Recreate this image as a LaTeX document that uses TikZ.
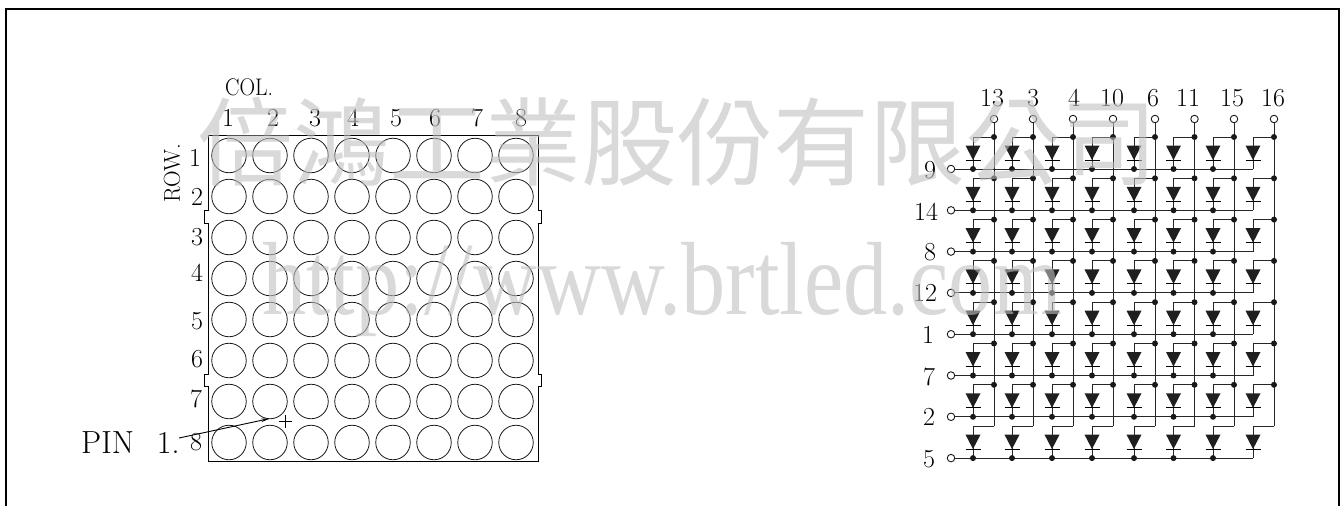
\documentclass[tikz,border=0pt]{standalone}
\usepackage{fontspec}
\setmainfont{Latin Modern Roman}
\newfontfamily\wmcjk{Noto Sans CJK TC}
\newfontfamily\wmlat{Liberation Serif}
\usetikzlibrary{arrows.meta}
\tikzset{
  x=1pt,y=-1pt,
  wire/.style={line width=1pt,draw=black!85},
  frameline/.style={line width=.9pt,draw=black},
  led/.style={circle,draw=black!90,line width=.8pt,minimum size=34.5pt,inner sep=0pt},
  term/.style={circle,draw=black!90,fill=white,line width=.9pt,minimum size=7.5pt,inner sep=0pt},
  junction/.style={circle,fill=black!90,minimum size=6pt,inner sep=0pt},
  lab/.style={inner sep=0pt,font=\fontsize{26}{26}\selectfont},
  wm/.style={inner sep=0pt,text=black!25,text opacity=.6}
}
\begin{document}
\begin{tikzpicture}
\useasboundingbox (0,0) rectangle (1342,506);
% outer frame
\draw[line width=2pt] (6,506) -- (6,8.5) -- (1339,8.5) -- (1339,506);
% package outline
\draw[frameline] (208,135.5) -- (538,135.5) -- (538,210) -- (541,210) -- (541,223) -- (538,223)
  -- (538,374) -- (541,374) -- (541,386) -- (538,386) -- (538,461) -- (208,461)
  -- (208,386) -- (204.5,386) -- (204.5,374) -- (208,374) -- (208,223) -- (204.5,223)
  -- (204.5,210) -- (208,210) -- cycle;
% LED dots
\foreach \r in {0,...,7}{\foreach \c in {0,...,7}{
  \node[led] (led\r\c) at ({229+41*\c},{155.5+41*\r}) {};
}}
% left labels
\foreach \t/\x in {1/228,2/273,3/315,4/353,5/396,6/435,7/477,8/521}{
  \node[lab] (colno\t) at (\x,118) {\t};
}
\foreach \t/\y/\x in {1/158/195,2/197/197,3/237/197,4/273/197,5/321/197,6/359/197,7/399/196,8/442/196}{
  \node[lab] (rowno\t) at (\x,\y) {\t};
}
\node[lab,xscale=.9,transform shape] (coltitle) at (249,87) {\fontsize{24}{24}\selectfont COL.};
\node[lab,rotate=90] (rowtitle) at (172,173) {\fontsize{23}{23}\selectfont ROW.};
\node[lab,anchor=base west] (pin) at (81,453) {\fontsize{32}{32}\selectfont PIN\hspace{23pt}1.};
\coordinate (arrowstart) at (179,438);
\coordinate (arrowend) at (270,418.5);
\draw[line width=.9pt,-{Stealth[length=9pt,width=3.5pt]}] (arrowstart) -- (arrowend);
\coordinate (plusc) at (285,421);
\draw[line width=.8pt] ([xshift=-6.5pt]plusc) -- ([xshift=6.5pt]plusc) ([yshift=-6.5pt]plusc) -- ([yshift=6.5pt]plusc);
% circuit: row lines
\foreach \t/\i in {9/0,14/1,8/2,12/3,1/4,7/5,2/6,5/7}{
  \pgfmathsetmacro\ry{169+41.3*\i}
  \node[term] (rt\i) at (951,\ry) {};
  \coordinate (rend\i) at (1253,\ry);
  \draw[wire] (rt\i) -- (rend\i);
}
\foreach \t/\y/\x [count=\n] in {9/170/930,14/212/926,8/252/930,12/293/925,1/335/928,7/377/929,2/417/929,5/459/929}{
  \node[lab] (rl\n) at (\x,\y) {\t};
}
% circuit: columns
\foreach \c/\cx/\tx [count=\ci from 0] in {13/994/992,3/1033/1033,4/1073/1074,10/1113/1112,6/1155/1153,11/1194.5/1188,15/1234/1232,16/1274/1273}{
  \node[lab] (cl\ci) at (\tx,98) {\c};
  \node[term] (ct\ci) at (\cx,119) {};
  \coordinate (cend\ci) at (\cx,{169+41.3*7-32});
  \draw[wire] (ct\ci) -- (cend\ci);
  \foreach \i in {0,...,7}{
    \pgfmathsetmacro\ry{169+41.3*\i}
    \pgfmathsetmacro\dx{\cx-21}
    \coordinate (an\ci\i) at (\cx,\ry-32);
    \coordinate (aa\ci\i) at (\dx,\ry-32);
    \coordinate (tl\ci\i) at (\dx-7.5,\ry-23.5);
    \coordinate (tr\ci\i) at (\dx+7.5,\ry-23.5);
    \coordinate (ap\ci\i) at (\dx,\ry-9);
    \coordinate (ca\ci\i) at (\dx,\ry);
    \draw[wire] (an\ci\i) -- (aa\ci\i) -- (ap\ci\i);
    \draw[wire] (ap\ci\i) -- (ca\ci\i);
    \fill[black!88] (tl\ci\i) -- (tr\ci\i) -- (ap\ci\i) -- cycle;
    \draw[line width=1pt] ([xshift=-7.5pt]ap\ci\i) -- ([xshift=7.5pt]ap\ci\i);
    \ifnum\i<7 \node[junction] (jc\ci\i) at (an\ci\i) {}; \fi
    \ifnum\ci<7 \node[junction] (jr\ci\i) at (ca\ci\i) {}; \fi
  }
}
% watermark
\node[wm,anchor=base west,font=\wmcjk\fontsize{96}{96}\selectfont] (wmcn) at (197,178) {倍鴻工業股份有限公司};
\node[wm,anchor=base west,font=\wmlat\fontsize{104}{104}\selectfont,xscale=.85,transform shape] (wmurl) at (262,314) {http://www.brtled.com};
\end{tikzpicture}
\end{document}
